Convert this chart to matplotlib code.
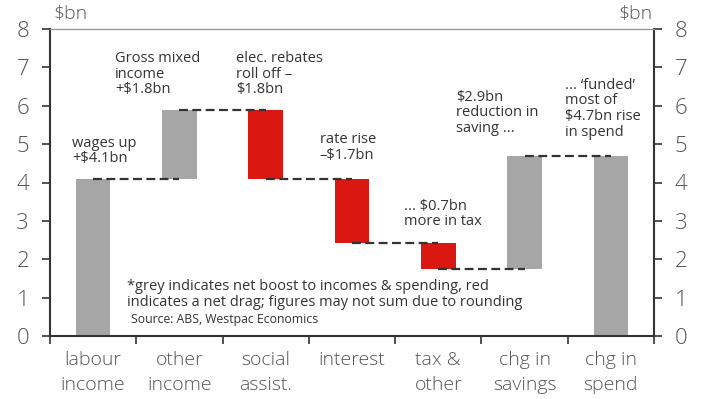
import matplotlib
matplotlib.use('Agg')
import matplotlib.pyplot as plt
import numpy as np

# --- Dados ---
categories = ['labour\nincome', 'other\nincome', 'social\nassist.', 'interest',
              'tax &\nother', 'chg in\nsavings', 'chg in\nspend']
bar_start = [0.0, 4.08, 5.9, 4.1, 2.43, 1.75, 0.0]
bar_end = [4.1, 5.9, 4.1, 2.43, 1.75, 4.7, 4.7]
is_boost = [True, True, False, False, False, True, True]

notes = ['wages up\n+$4.1bn', 'Gross mixed\nincome\n+$1.8bn', 'elec. rebates\nroll off –\n$1.8bn',
         'rate rise\n–$1.7bn', '... $0.7bn\nmore in tax', '$2.9bn\nreduction in\nsaving ...',
         '... ‘funded’\nmost of\n$4.7bn rise\nin spend']
note_xy = [(-0.245, 4.42), (0.252, 6.22), (1.653, 6.22), (2.625, 4.52),
           (3.60, 2.78), (4.21, 5.22), (5.47, 5.12)]

footnote = ('*grey indicates net boost to incomes & spending, red\n'
            'indicates a net drag; figures may not sum due to rounding')
source = 'Source: ABS, Westpac Economics'

GREY = '#a6a6a6'
RED = '#da1710'
DARK = '#333333'
TICK = '#555555'

plt.rcParams['font.family'] = ['Open Sans', 'DejaVu Sans']

fig = plt.figure(figsize=(7.04, 3.99), dpi=100)
ax = fig.add_axes([50 / 704, 63 / 399, 604 / 704, 307 / 399])

x = np.arange(len(categories))
bottoms = np.minimum(bar_start, bar_end)
heights = np.abs(np.array(bar_end) - np.array(bar_start))
colors = [GREY if b else RED for b in is_boost]
ax.bar(x, heights, bottom=bottoms, width=0.4, color=colors, zorder=2)

# linhas tracejadas entre as barras
for i in range(len(x) - 1):
    ax.plot([x[i], x[i + 1]], [bar_end[i], bar_end[i]], color=DARK, lw=1.6,
            dashes=(4, 2), zorder=3)

for txt, (tx, ty) in zip(notes, note_xy):
    ax.text(tx, ty, txt, fontsize=10.5, color=DARK, ha='left', va='bottom', linespacing=1.05)

ax.text(0.391, 0.68, footnote, fontsize=10.5, color=DARK, ha='left', va='bottom', linespacing=1.05)
ax.text(0.44, 0.27, source, fontsize=8.8, color=DARK, ha='left', va='bottom')

ax.set_xlim(-0.5, len(x) - 0.5)
ax.set_ylim(0, 8)
ax.set_yticks(range(0, 9))
ax.set_xticks(np.arange(-0.5, len(x), 1.0))
ax.set_xticklabels([])
ax.set_xticks(x, minor=True)
ax.set_xticklabels(categories, minor=True, fontsize=14, color=TICK, linespacing=1.5,
                   fontweight='light')
ax.tick_params(axis='x', which='minor', length=0, pad=11)
ax.tick_params(axis='x', which='major', length=6, width=1.2, color=DARK, direction='out')
ax.tick_params(axis='y', length=6, width=1.2, color=DARK, labelsize=16, labelcolor=TICK,
               right=True, labelright=True, direction='out', pad=9)
for lbl in ax.get_yticklabels():
    lbl.set_fontweight('light')

for side in ['left', 'right', 'bottom']:
    ax.spines[side].set_color(DARK)
    ax.spines[side].set_linewidth(1.5)
ax.spines['top'].set_color('#999999')
ax.spines['top'].set_linewidth(1.0)

ax.text(0.005, 1.02, '$bn', transform=ax.transAxes, fontsize=14, color=TICK, ha='left', va='bottom',
        fontweight='light')
ax.text(0.997, 1.02, '$bn', transform=ax.transAxes, fontsize=14, color=TICK, ha='right', va='bottom',
        fontweight='light')

fig.savefig('out.png', dpi=100)
